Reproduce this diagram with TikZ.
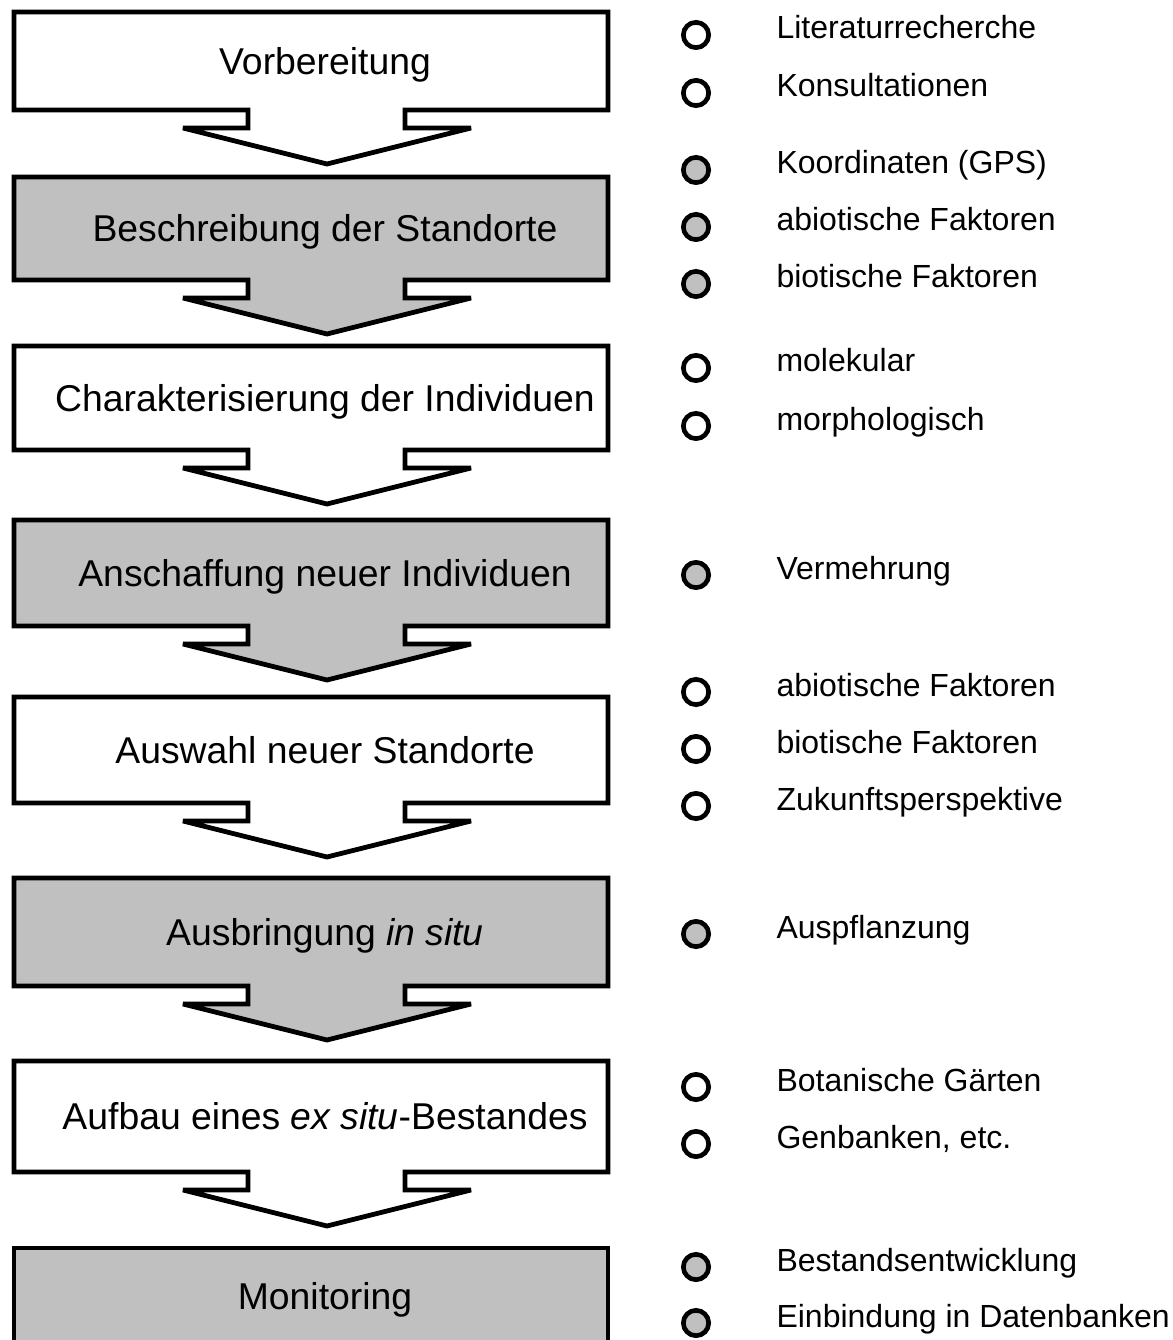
\documentclass[tikz,border=0pt]{standalone}
\usepackage{fontspec}
\setmainfont{Liberation Sans}
\definecolor{boxgray}{RGB}{192,192,192}
\tikzset{
  flowshape/.style={draw=black, line width=1.8pt, line join=miter, miter limit=4},
  boxtext/.style={anchor=base, inner sep=0pt, font=\fontsize{14}{17}\selectfont},
  itemtext/.style={anchor=base west, inner sep=0pt, font=\fontsize{12}{14}\selectfont},
  bulletw/.style={circle, draw=black, fill=white, line width=1.75pt, inner sep=0pt, minimum size=9.5pt},
  bulletg/.style={bulletw, fill=boxgray},
}
% #1 top, #2 bottom, #3 fill
\newcommand\flowarrowbox[3]{%
  \draw[flowshape, fill=#3] (14,#1) -- (608,#1) -- (608,#2) -- (405,#2) -- (405,{#2+18}) -- (471,{#2+18})
    -- (327,{#2+54}) -- (183,{#2+18}) -- (248,{#2+18}) -- (248,#2) -- (14,#2) -- cycle;}
\newcommand\bulletitem[4]{% #1 name, #2 y, #3 style, #4 text
  \node[#3] (#1b) at (696,#2) {};
  \node[itemtext] (#1) at (776,{#2+4}) {#4};}
\begin{document}
\begin{tikzpicture}[x=0.375pt, y=-0.375pt]
\useasboundingbox (0,0) rectangle (1172,1340);
\clip (0,0) rectangle (1172,1340);
\fill[white] (0,0) rectangle (1172,1340);
% step boxes
\flowarrowbox{12}{110}{white}
\flowarrowbox{177}{280}{boxgray}
\flowarrowbox{346}{450}{white}
\flowarrowbox{520}{626}{boxgray}
\flowarrowbox{697}{803}{white}
\flowarrowbox{878}{986}{boxgray}
\flowarrowbox{1061}{1172}{white}
\draw[flowshape, fill=boxgray] (14,1248) rectangle (608,1360);
% box texts
\node[boxtext] (s1) at (325,{61+13.3}) {Vorbereitung};
\node[boxtext] (s2) at (325,{228.5+13.3}) {Beschreibung der Standorte};
\node[boxtext] (s3) at (325,{398+13.3}) {Charakterisierung der Individuen};
\node[boxtext] (s4) at (325,{573+13.3}) {Anschaffung neuer Individuen};
\node[boxtext] (s5) at (325,{750+13.3}) {Auswahl neuer Standorte};
\node[boxtext] (s6) at (325,{932+13.3}) {Ausbringung \textit{in situ}};
\node[boxtext] (s7) at (325,{1116.5+13.3}) {Aufbau eines \textit{ex situ}-Bestandes};
\node[boxtext] (s8) at (325,{1296+13.3}) {Monitoring};
% bullet lists
\bulletitem{a1}{35}{bulletw}{Literaturrecherche}
\bulletitem{a2}{93}{bulletw}{Konsultationen}
\bulletitem{b1}{170}{bulletg}{Koordinaten (GPS)}
\bulletitem{b2}{227}{bulletg}{abiotische Faktoren}
\bulletitem{b3}{284}{bulletg}{biotische Faktoren}
\bulletitem{c1}{368}{bulletw}{molekular}
\bulletitem{c2}{426}{bulletw}{morphologisch}
\bulletitem{d1}{575}{bulletg}{Vermehrung}
\bulletitem{e1}{692}{bulletw}{abiotische Faktoren}
\bulletitem{e2}{749}{bulletw}{biotische Faktoren}
\bulletitem{e3}{806}{bulletw}{Zukunftsperspektive}
\bulletitem{f1}{934}{bulletg}{Auspflanzung}
\bulletitem{g1}{1087}{bulletw}{Botanische Gärten}
\bulletitem{g2}{1144}{bulletw}{Genbanken, etc.}
\bulletitem{h1}{1267}{bulletg}{Bestandsentwicklung}
\bulletitem{h2}{1323}{bulletg}{Einbindung in Datenbanken}
\end{tikzpicture}
\end{document}
